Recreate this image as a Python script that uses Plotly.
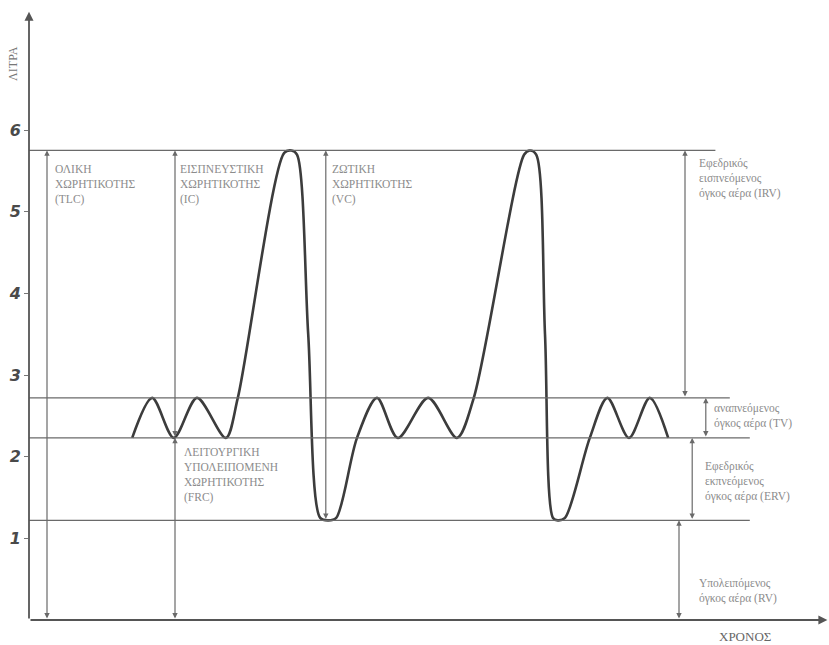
import plotly.graph_objects as go

# Spirogram trace (time in arbitrary units, volume in litres)
time_pts = [12.9, 15.4, 18.1, 21.0, 24.6, 26.1, 31.9, 32.8, 33.5, 34.9, 36.4, 37.4, 38.4,
            41.0, 43.5, 46.1, 49.9, 53.5, 55.6, 61.9, 62.6, 63.4, 64.5, 65.5, 66.1, 67.0,
            70.1, 72.3, 75.0, 77.6, 79.9]
volume_pts = [2.23, 2.72, 2.23, 2.72, 2.23, 2.72, 5.72, 5.75, 5.70, 3.50, 1.25, 1.22, 1.25,
              2.23, 2.72, 2.23, 2.72, 2.23, 2.72, 5.70, 5.75, 5.70, 3.50, 1.25, 1.22, 1.25,
              2.23, 2.72, 2.23, 2.72, 2.23]

# Reference levels: TLC, end of tidal inspiration, FRC, RV
level_names = ['TLC', 'TV_top', 'FRC', 'RV']
level_values = [5.75, 2.72, 2.23, 1.22]
level_ends = [85.8, 87.6, 90.1, 90.1]

# Measurement arrows (x position, bottom, top)
arrow_x = [2.25, 18.25, 18.25, 37.1, 82.0, 84.6, 82.9, 81.25]
arrow_lo = [0.0, 2.23, 0.0, 1.22, 2.72, 2.23, 1.22, 0.0]
arrow_hi = [5.75, 5.75, 2.23, 5.75, 5.75, 2.72, 2.23, 1.22]

# Labels
label_text = [
    'ΟΛΙΚΗ<br>ΧΩΡΗΤΙΚΟΤΗΣ<br>(TLC)',
    'ΕΙΣΠΝΕΥΣΤΙΚΗ<br>ΧΩΡΗΤΙΚΟΤΗΣ<br>(IC)',
    'ΖΩΤΙΚΗ<br>ΧΩΡΗΤΙΚΟΤΗΣ<br>(VC)',
    'ΛΕΙΤΟΥΡΓΙΚΗ<br>ΥΠΟΛΕΙΠΟΜΕΝΗ<br>ΧΩΡΗΤΙΚΟΤΗΣ<br>(FRC)',
    'Εφεδρικός<br>εισπνεόμενος<br>όγκος αέρα (IRV)',
    'αναπνεόμενος<br>όγκος αέρα (TV)',
    'Εφεδρικός<br>εκπνεόμενος<br>όγκος αέρα (ERV)',
    'Υπολειπόμενος<br>όγκος αέρα (RV)',
]
label_x = [3.0, 18.6, 37.6, 19.1, 83.5, 85.4, 84.3, 83.5]
label_y = [5.62, 5.62, 5.62, 2.15, 5.70, 2.70, 1.98, 0.55]

y_ticks = [1, 2, 3, 4, 5, 6]

line_col = '#6a6a6a'
text_col = '#8c8c8c'

fig = go.Figure()

fig.add_trace(go.Scatter(
    x=time_pts, y=volume_pts, mode='lines',
    line=dict(color='#3c3c3c', width=2.6, shape='spline', smoothing=0.85),
    hoverinfo='skip', showlegend=False,
))

# horizontal level lines
for val, end in zip(level_values, level_ends):
    fig.add_shape(type='line', x0=0, x1=end, y0=val, y1=val,
                  line=dict(color=line_col, width=1.2))

annotations = []

# double-headed measurement arrows
for xv, lo, hi in zip(arrow_x, arrow_lo, arrow_hi):
    annotations.append(dict(
        x=xv, y=hi, ax=xv, ay=lo, xref='x', yref='y', axref='x', ayref='y',
        text='', showarrow=True, arrowhead=2, startarrowhead=2,
        arrowside='end+start', arrowsize=0.9, startarrowsize=0.9,
        arrowwidth=1.2, arrowcolor=line_col,
    ))

# axes with arrowheads
annotations.append(dict(x=0, y=7.45, ax=0, ay=0, xref='x', yref='y', axref='x', ayref='y',
                        text='', showarrow=True, arrowhead=2, arrowsize=1,
                        arrowwidth=1.8, arrowcolor='#555555'))
annotations.append(dict(x=99.8, y=0, ax=0, ay=0, xref='x', yref='y', axref='x', ayref='y',
                        text='', showarrow=True, arrowhead=2, arrowsize=1,
                        arrowwidth=1.8, arrowcolor='#555555'))

for txt, xv, yv in zip(label_text, label_x, label_y):
    annotations.append(dict(
        x=xv, y=yv, xref='x', yref='y', text=txt, showarrow=False,
        xanchor='left', yanchor='top', align='left',
        font=dict(family='Liberation Serif', size=11.5, color=text_col),
    ))

annotations.append(dict(x=0.895, y=-0.012, xref='paper', yref='paper', text='ΧΡΟΝΟΣ',
                        showarrow=False, xanchor='center', yanchor='top',
                        font=dict(family='Liberation Serif', size=13, color='#666666')))
annotations.append(dict(x=-0.021, y=0.912, xref='paper', yref='paper', text='ΛΙΤΡΑ',
                        showarrow=False, textangle=-90, xanchor='center', yanchor='middle',
                        font=dict(family='Liberation Serif', size=12, color='#777777')))

fig.update_layout(
    width=829, height=645,
    margin=dict(l=29, r=0, t=10, b=25),
    paper_bgcolor='white', plot_bgcolor='white',
    xaxis=dict(range=[0, 100], showgrid=False, zeroline=False, showline=False,
               showticklabels=False, ticks='', automargin=False),
    yaxis=dict(range=[0, 7.47], showgrid=False, zeroline=False, showline=False,
               tickvals=y_ticks, ticktext=[str(t) for t in y_ticks],
               ticks='outside', ticklen=4, tickcolor='#777777', automargin=False,
               tickfont=dict(family='DejaVu Sans', size=16, color='#4a4a4a',
                             style='italic', weight='bold'),
               ),
    annotations=annotations,
    showlegend=False,
)

fig.write_html("out.html", config={'displayModeBar': False},
               post_script="document.body.style.margin='0px';")
